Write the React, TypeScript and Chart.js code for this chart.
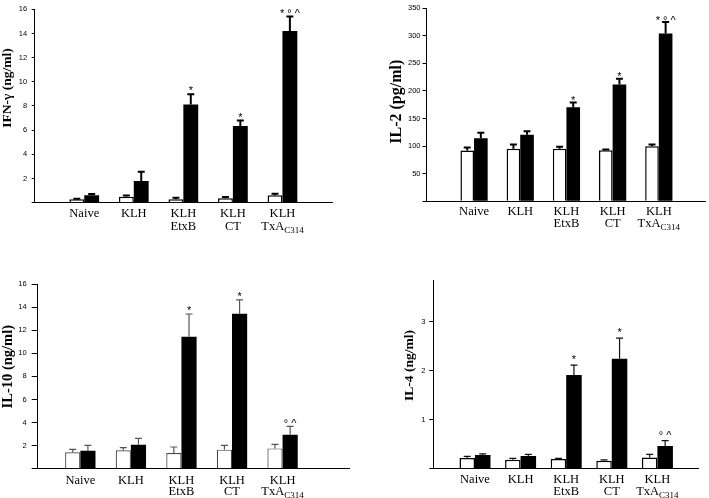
import React, { useEffect, useRef } from 'react';
import { Chart, registerables } from 'chart.js';

Chart.register(...registerables);

// ---- data ----
const groupX = [1, 2, 3, 4, 5];
const labelLine1 = ['Naive', 'KLH', 'KLH', 'KLH', 'KLH'];
const labelLine2 = ['', '', 'EtxB', 'CT', 'TxA'];
const labelLine2Sub = ['', '', '', '', 'C314'];

const ifnOpen = [0.28, 0.5, 0.28, 0.36, 0.61];
const ifnOpenErr = [0.05, 0.1, 0.13, 0.11, 0.13];
const ifnFilled = [0.61, 1.79, 8.13, 6.34, 14.21];
const ifnFilledErr = [0.11, 0.77, 0.85, 0.47, 1.19];
const ifnMarks = ['', '', '*', '*', '* ° ^'];

const il2Open = [92, 95, 95, 92.6, 99.8];
const il2OpenErr = [5.4, 7.9, 3.6, 1.2, 3.1];
const il2Filled = [114.3, 120.4, 170.6, 211.8, 304.3];
const il2FilledErr = [9.7, 6.6, 8.4, 10.2, 20.7];
const il2Marks = ['', '', '*', '*', '* ° ^'];

const il10Open = [1.42, 1.59, 1.36, 1.65, 1.76];
const il10OpenErr = [0.26, 0.23, 0.52, 0.37, 0.35];
const il10Filled = [1.56, 2.08, 11.44, 13.43, 2.95];
const il10FilledErr = [0.46, 0.55, 1.96, 1.19, 0.72];
const il10Marks = ['', '', '*', '*', '° ^'];

const il4Open = [0.22, 0.18, 0.2, 0.16, 0.23];
const il4OpenErr = [0.03, 0.03, 0.01, 0.02, 0.06];
const il4Filled = [0.28, 0.26, 1.91, 2.24, 0.46];
const il4FilledErr = [0.02, 0.03, 0.2, 0.42, 0.11];
const il4Marks = ['', '', '*', '*', '° ^'];

// ---- layout / style ----
type PanelCfg = {
  title: string;
  titleSize: number;
  titlePos: [number, number];
  canvas: [number, number, number, number];
  area: [number, number, number, number];
  xMin: number;
  xMax: number;
  yMax: number;
  yStep: number;
  tickLen: number;
  tickPad: number;
  barFrac: number;
  errColor: string;
  errWidth: number;
  outline: string;
  outlineW: number;
  markGap: number;
  lab1: number;
  lab2: number;
  open: number[];
  openErr: number[];
  filled: number[];
  filledErr: number[];
  marks: string[];
};

const YW = 30;
const SERIF = '"Liberation Serif", "Times New Roman", serif';
const SANS = '"Liberation Sans", Arial, sans-serif';
const LABEL_SIZE = 12.5;

const panels: PanelCfg[] = [
  {
    title: 'IFN-γ (ng/ml)', titleSize: 13.5, titlePos: [8, 88],
    canvas: [0, 0, 355, 250], area: [34.7, 9.3, 332, 202.7],
    xMin: 0, xMax: 6, yMax: 16, yStep: 2, tickLen: 3, tickPad: 4.5, barFrac: 0.6,
    errColor: '#000', errWidth: 2, outline: '#000', outlineW: 1.5, markGap: 6, lab1: 14.3, lab2: 27.3,
    open: ifnOpen, openErr: ifnOpenErr, filled: ifnFilled, filledErr: ifnFilledErr, marks: ifnMarks,
  },
  {
    title: 'IL-2 (pg/ml)', titleSize: 16, titlePos: [397, 101.7],
    canvas: [355, 0, 354, 250], area: [426, 8.3, 705, 201.2],
    xMin: -0.04, xMax: 6, yMax: 350, yStep: 50, tickLen: 3.5, tickPad: 2, barFrac: 0.59,
    errColor: '#000', errWidth: 2, outline: '#000', outlineW: 1.5, markGap: 4.7, lab1: 14, lab2: 25.5,
    open: il2Open, openErr: il2OpenErr, filled: il2Filled, filledErr: il2FilledErr, marks: il2Marks,
  },
  {
    title: 'IL-10 (ng/ml)', titleSize: 14.5, titlePos: [8.5, 366.7],
    canvas: [0, 250, 355, 248], area: [37.7, 284, 349.3, 468.7],
    xMin: 0.157, xMax: 6.32, yMax: 16, yStep: 2, tickLen: 6, tickPad: 5, barFrac: 0.6,
    errColor: '#555', errWidth: 1.2, outline: '#444', outlineW: 1.2, markGap: 6, lab1: 14.8, lab2: 26.3,
    open: il10Open, openErr: il10OpenErr, filled: il10Filled, filledErr: il10FilledErr, marks: il10Marks,
  },
  {
    title: 'IL-4 (ng/ml)', titleSize: 13.5, titlePos: [409.3, 365.5],
    canvas: [355, 250, 354, 248], area: [433.3, 280.7, 698, 468.7],
    xMin: 0.086, xMax: 5.89, yMax: 3.83, yStep: 1, tickLen: 4, tickPad: 4, barFrac: 0.68,
    errColor: '#111', errWidth: 1.2, outline: '#000', outlineW: 1.5, markGap: 8.3, lab1: 14.6, lab2: 26.3,
    open: il4Open, openErr: il4OpenErr, filled: il4Filled, filledErr: il4FilledErr, marks: il4Marks,
  },
];

function makePlugin(cfg: PanelCfg) {
  return {
    id: 'decor',
    afterDatasetsDraw(chart: any) {
      const ctx = chart.ctx;
      const y = chart.scales.y;
      const errs = [cfg.openErr, cfg.filledErr];
      const vals = [cfg.open, cfg.filled];
      ctx.save();
      ctx.strokeStyle = cfg.errColor;
      ctx.lineWidth = cfg.errWidth;
      for (let d = 0; d < 2; d++) {
        const meta = chart.getDatasetMeta(d);
        meta.data.forEach((el: any, i: number) => {
          const top = y.getPixelForValue(vals[d][i] + errs[d][i]);
          const base = y.getPixelForValue(vals[d][i]);
          ctx.beginPath();
          ctx.moveTo(el.x, base);
          ctx.lineTo(el.x, top);
          ctx.moveTo(el.x - 3.5, top);
          ctx.lineTo(el.x + 3.5, top);
          ctx.stroke();
        });
      }
      // significance marks
      const fm = chart.getDatasetMeta(1);
      ctx.fillStyle = '#000';
      ctx.font = `11px ${SANS}`;
      ctx.textAlign = 'center';
      ctx.textBaseline = 'alphabetic';
      fm.data.forEach((el: any, i: number) => {
        const m = cfg.marks[i];
        if (!m) return;
        const top = y.getPixelForValue(cfg.filled[i] + cfg.filledErr[i]);
        ctx.fillText(m, el.x, top - cfg.markGap + 6.3);
      });
      ctx.restore();
    },
    afterDraw(chart: any) {
      const ctx = chart.ctx;
      const xs = chart.scales.x;
      const bottom = chart.chartArea.bottom;
      ctx.save();
      ctx.fillStyle = '#000';
      ctx.textBaseline = 'alphabetic';
      groupX.forEach((gx, i) => {
        const cx = xs.getPixelForValue(gx);
        ctx.font = `${LABEL_SIZE}px ${SERIF}`;
        ctx.textAlign = 'center';
        ctx.fillText(labelLine1[i], cx, bottom + cfg.lab1);
        const l2 = labelLine2[i];
        if (l2) {
          const sub = labelLine2Sub[i];
          ctx.font = `${LABEL_SIZE}px ${SERIF}`;
          const w1 = ctx.measureText(l2).width;
          ctx.font = `9px ${SERIF}`;
          const ws = sub ? ctx.measureText(sub).width : 0;
          const start = cx - (w1 + ws) / 2;
          ctx.textAlign = 'left';
          ctx.font = `${LABEL_SIZE}px ${SERIF}`;
          ctx.fillText(l2, start, bottom + cfg.lab2);
          if (sub) {
            ctx.font = `9px ${SERIF}`;
            ctx.fillText(sub, start + w1, bottom + cfg.lab2 + 3);
          }
        }
      });
      // y title
      ctx.translate(cfg.titlePos[0] - cfg.canvas[0], cfg.titlePos[1] - cfg.canvas[1]);
      ctx.rotate(-Math.PI / 2);
      ctx.textAlign = 'center';
      ctx.textBaseline = 'middle';
      ctx.font = `bold ${cfg.titleSize}px ${SERIF}`;
      ctx.fillText(cfg.title, 0, 0);
      ctx.restore();
    },
  };
}

function Panel({ cfg }: { cfg: PanelCfg }) {
  const ref = useRef<HTMLCanvasElement>(null);
  useEffect(() => {
    const [cl, ct, cw, ch] = cfg.canvas;
    const [al, at, ar, ab] = cfg.area;
    const chart = new Chart(ref.current as HTMLCanvasElement, {
      type: 'bar',
      data: {
        datasets: [
          {
            data: groupX.map((x, i) => ({ x, y: cfg.open[i] })),
            backgroundColor: '#fff',
            borderColor: cfg.outline,
            borderWidth: cfg.outlineW,
            barPercentage: 1,
            categoryPercentage: cfg.barFrac,
          },
          {
            data: groupX.map((x, i) => ({ x, y: cfg.filled[i] })),
            backgroundColor: '#000',
            borderWidth: 0,
            barPercentage: 1,
            categoryPercentage: cfg.barFrac,
          },
        ],
      } as any,
      options: {
        responsive: false,
        animation: false,
        events: [],
        layout: {
          padding: {
            left: al - cl - YW,
            top: at - ct,
            right: cl + cw - ar,
            bottom: ct + ch - ab,
          },
        },
        plugins: {
          legend: { display: false },
          tooltip: { enabled: false },
          title: { display: false },
        },
        scales: {
          x: {
            type: 'linear',
            min: cfg.xMin,
            max: cfg.xMax,
            offset: false,
            grid: { display: true, offset: false, drawOnChartArea: false, drawTicks: false },
            border: { display: true, color: '#000', width: 1 },
            ticks: { display: false },
            afterFit: (s: any) => { s.height = 0; },
          },
          y: {
            type: 'linear',
            min: 0,
            max: cfg.yMax,
            grid: { display: true, drawOnChartArea: false, drawTicks: true, tickLength: cfg.tickLen, color: '#000' },
            border: { display: true, color: '#000', width: 1 },
            ticks: {
              stepSize: cfg.yStep,
              includeBounds: false,
              padding: cfg.tickPad,
              color: '#000',
              font: { size: 7.5, family: SANS },
              callback: (v: any) => (v === 0 ? '' : String(v)),
            },
            afterFit: (s: any) => { s.width = YW; },
          },
        },
      } as any,
      plugins: [makePlugin(cfg)],
    });
    return () => chart.destroy();
  }, [cfg]);
  const [cl, ct, cw, ch] = cfg.canvas;
  return (
    <canvas
      ref={ref}
      width={cw}
      height={ch}
      style={{ position: 'absolute', left: cl, top: ct, width: cw, height: ch }}
    />
  );
}

export default function App() {
  return (
    <div style={{ position: 'fixed', left: 0, top: 0, width: 709, height: 498, background: '#fff', overflow: 'hidden' }}>
      {panels.map((p) => (
        <Panel key={p.title} cfg={p} />
      ))}
    </div>
  );
}
